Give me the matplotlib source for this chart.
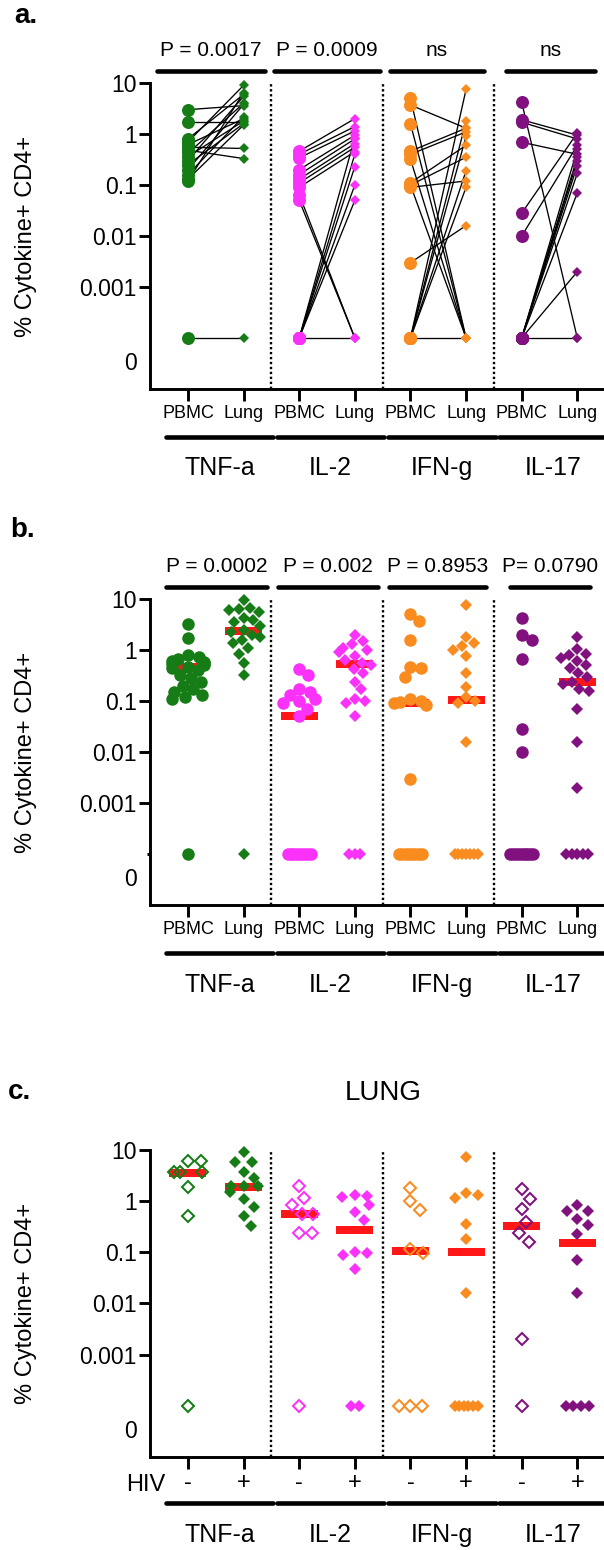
import numpy as np
import matplotlib
matplotlib.use("Agg")
import matplotlib.pyplot as plt
import matplotlib.transforms as mtransforms

plt.rcParams['font.family'] = ['Liberation Sans', 'DejaVu Sans']

# ---------------- data ----------------
cytokines = ['TNF-a', 'IL-2', 'IFN-g', 'IL-17']
colors = ['#167D16', '#F931F9', '#F98B1F', '#80117F']
tissue_labels = ['PBMC', 'Lung']
hiv_labels = ['-', '+']
ytick_values = [10, 1, 0.1, 0.01, 0.001]
ytick_labels = ['10', '1', '0.1', '0.01', '0.001']
ylabel_text = '% Cytokine+ CD4+'

# panel a: paired PBMC -> Lung values (0 = no response)
a_pvalues = ['P = 0.0017', 'P = 0.0009', 'ns', 'ns']
a_tnf_pbmc = [3.0, 1.7, 0.80, 0.70, 0.62, 0.55, 0.48, 0.42, 0.36, 0.30, 0.25, 0.20, 0.16, 0.13, 0.12, 0]
a_tnf_lung = [3.6, 1.7, 6.0, 9.0, 2.0, 0.52, 0.33, 4.0, 1.8, 5.5, 1.6, 3.8, 2.2, 1.5, 6.5, 0]
a_il2_pbmc = [0.46, 0.40, 0.34, 0.20, 0.16, 0.13, 0.11, 0.09, 0.065, 0.05, 0, 0, 0, 0, 0, 0]
a_il2_lung = [2.0, 1.4, 1.15, 0.95, 0.80, 0.65, 0.55, 0.45, 0, 0, 0.23, 0.10, 0.05, 0.40, 0.85, 0]
a_ifn_pbmc = [5.0, 3.7, 1.6, 0.46, 0.40, 0.32, 0.11, 0.10, 0.09, 0.10, 0.003, 0, 0, 0, 0, 0, 0]
a_ifn_lung = [0, 1.3, 0, 1.3, 1.1, 0, 0.6, 0.35, 0.12, 0, 0.016, 7.5, 1.8, 0.9, 0.19, 0.09, 0]
a_il17_pbmc = [4.2, 1.9, 1.7, 0.69, 0.028, 0.01, 0, 0, 0, 0, 0, 0, 0, 0]
a_il17_lung = [0, 0.95, 0.8, 0.4, 1.05, 0.6, 0.5, 0.3, 0.24, 0.17, 0.07, 0.002, 0.35, 0]

# panel b: all PBMC and Lung values with medians
b_pvalues = ['P = 0.0002', 'P = 0.002', 'P = 0.8953', 'P= 0.0790']
b_tnf_pbmc = [3.2, 1.7, 0.80, 0.72, 0.68, 0.62, 0.58, 0.55, 0.52, 0.50, 0.47, 0.44, 0.40,
              0.33, 0.28, 0.24, 0.20, 0.17, 0.15, 0.13, 0.12, 0.11, 0]
b_tnf_lung = [9.4, 6.6, 6.3, 6.0, 5.6, 4.2, 3.8, 3.5, 2.9, 2.5, 2.3, 2.0, 1.8, 1.6, 1.4,
              1.1, 0.85, 0.55, 0.33, 0]
b_il2_pbmc = [0.42, 0.32, 0.17, 0.15, 0.13, 0.11, 0.10, 0.09, 0.07, 0.05,
              0, 0, 0, 0, 0, 0, 0, 0, 0]
b_il2_lung = [2.0, 1.5, 1.3, 1.1, 1.0, 0.9, 0.75, 0.65, 0.55, 0.50, 0.42, 0.35, 0.24,
              0.17, 0.11, 0.10, 0.09, 0.05, 0, 0, 0]
b_ifn_pbmc = [5.0, 3.7, 1.6, 0.46, 0.45, 0.30, 0.11, 0.10, 0.095, 0.09, 0.085, 0.003,
              0, 0, 0, 0, 0, 0, 0, 0]
b_ifn_lung = [7.7, 1.8, 1.4, 1.2, 1.0, 0.75, 0.36, 0.19, 0.12, 0.10, 0.09, 0.016,
              0, 0, 0, 0, 0, 0, 0]
b_il17_pbmc = [4.2, 2.0, 1.6, 0.66, 0.028, 0.01, 0, 0, 0, 0, 0, 0, 0, 0, 0]
b_il17_lung = [1.8, 1.05, 0.85, 0.80, 0.70, 0.60, 0.50, 0.45, 0.35, 0.30, 0.24, 0.22,
               0.17, 0.16, 0.07, 0.016, 0.002, 0, 0, 0, 0, 0]
b_medians = [[0.47, 2.4], [0.051, 0.52], [0.09, 0.105], [0, 0.235]]

# panel c: lung values split by HIV status
c_title = 'LUNG'
c_tnf_neg = [6.1, 6.1, 3.8, 3.8, 3.8, 1.9, 0.52, 0]
c_tnf_pos = [9.0, 5.9, 5.9, 3.8, 2.8, 2.0, 2.0, 2.0, 1.5, 1.1, 0.78, 0.52, 0.33]
c_il2_neg = [2.0, 1.15, 0.85, 0.56, 0.56, 0.24, 0.24, 0]
c_il2_pos = [1.3, 1.25, 1.2, 0.85, 0.62, 0.42, 0.10, 0.095, 0.09, 0.048, 0, 0]
c_ifn_neg = [1.8, 1.0, 0.68, 0.115, 0.095, 0, 0, 0]
c_ifn_pos = [7.2, 1.45, 1.3, 1.15, 0.36, 0.18, 0.016, 0, 0, 0, 0, 0, 0]
c_il17_neg = [1.7, 1.1, 0.7, 0.4, 0.24, 0.16, 0.002, 0]
c_il17_pos = [0.85, 0.65, 0.63, 0.44, 0.34, 0.23, 0.07, 0.016, 0, 0, 0, 0]
c_medians = [[3.6, 1.9], [0.56, 0.27], [0.105, 0.10], [0.32, 0.15]]

a_pairs = [(a_tnf_pbmc, a_tnf_lung), (a_il2_pbmc, a_il2_lung),
           (a_ifn_pbmc, a_ifn_lung), (a_il17_pbmc, a_il17_lung)]
b_groups = [(b_tnf_pbmc, b_tnf_lung), (b_il2_pbmc, b_il2_lung),
            (b_ifn_pbmc, b_ifn_lung), (b_il17_pbmc, b_il17_lung)]
c_groups = [(c_tnf_neg, c_tnf_pos), (c_il2_neg, c_il2_pos),
            (c_ifn_neg, c_ifn_pos), (c_il17_neg, c_il17_pos)]

# ---------------- layout ----------------
W, H, DPI = 604, 1550, 100
PT = DPI / 72.0
AX_LEFT, AX_RIGHT = 150, 604
XMIN, XMAX = -0.683, 7.48
YMIN, YMAX = -5.0, 1.0
ZERO_POS = -4.0
ZERO_LABEL_POS = -4.5
PX_X = (AX_RIGHT - AX_LEFT) / (XMAX - XMIN)
PX_Y = 306 / (YMAX - YMIN)
SPINE_LW = 2.1
BAR_LW = 3.3
YTICK_SIZE = 16.5

a_statbars = [(-0.56, 1.38), (1.55, 3.45), (3.63, 5.32), (5.72, 7.32)]
b_statbars = [(-0.40, 1.42), (1.62, 3.42), (3.62, 5.36), (5.79, 7.23)]

fig = plt.figure(figsize=(W / DPI, H / DPI), dpi=DPI)
fig.patch.set_facecolor('white')


def fy(px):
    return 1 - px / H


def ycode(vals):
    v = np.asarray(vals, dtype=float)
    out = np.full(v.shape, ZERO_POS)
    pos = v > 0
    out[pos] = np.log10(v[pos])
    return out


def swarm(vals, d_coll, max_off, zero_step, zero_span=23.0):
    vals = np.asarray(vals, dtype=float)
    y = ycode(vals) * PX_Y
    n = len(vals)
    offs = np.zeros(n)
    order = [i for i in np.argsort(-vals, kind='stable') if vals[i] > 0]
    placed = []
    for i in order:
        yi = y[i]
        cands = [0.0]
        for xo, yo in placed:
            dy = abs(yi - yo)
            if dy < d_coll:
                dx = np.sqrt(d_coll ** 2 - dy ** 2)
                cands += [xo + dx, xo - dx]
        cands = sorted(cands, key=lambda c: (abs(c), -c))
        for c in cands:
            if all((c - xo) ** 2 + (yi - yo) ** 2 >= d_coll ** 2 - 1e-6 for xo, yo in placed):
                offs[i] = c
                break
        placed.append((offs[i], yi))
    offs = np.clip(offs, -max_off, max_off)
    zi = [i for i in range(n) if vals[i] <= 0]
    k = len(zi)
    if k > 1:
        step = min(zero_step, zero_span / (k - 1))
        for j, i in enumerate(zi):
            offs[i] = (j - (k - 1) / 2.0) * step
    return offs / PX_X


def make_axes(top_px, h_px, xlabels, xlabel_size, xpad, zero_tick):
    ax = fig.add_axes([AX_LEFT / W, 1 - (top_px + h_px) / H,
                       (AX_RIGHT - AX_LEFT) / W, h_px / H])
    ax.set_xlim(XMIN, XMAX)
    ax.set_ylim(YMIN, YMAX)
    ax.patch.set_visible(False)
    for s in ('top', 'right'):
        ax.spines[s].set_visible(False)
    for s in ('left', 'bottom'):
        ax.spines[s].set_linewidth(SPINE_LW)
        ax.spines[s].set_capstyle('projecting')
    ax.set_yticks(np.log10(ytick_values))
    ax.set_yticklabels(ytick_labels, fontsize=YTICK_SIZE)
    ax.tick_params(axis='y', length=7.9, width=SPINE_LW, pad=1.5)
    if zero_tick:
        ax.set_yticks([ZERO_POS], minor=True)
        ax.tick_params(axis='y', which='minor', length=2.5, width=SPINE_LW)
    tr = mtransforms.blended_transform_factory(ax.transAxes, ax.transData)
    ax.text(-13.0 / (AX_RIGHT - AX_LEFT), ZERO_LABEL_POS, '0', transform=tr,
            ha='right', va='center', fontsize=YTICK_SIZE)
    ax.set_xticks(np.arange(8))
    ax.set_xticklabels(xlabels, fontsize=xlabel_size)
    ax.tick_params(axis='x', length=8.6, width=SPINE_LW, pad=xpad)
    for xs in (1.5, 3.5, 5.5):
        ax.plot([xs, xs], [YMIN, YMAX], color='black', lw=1.7,
                ls=(0, (1, 1.1)), zorder=1, clip_on=False)
    return ax


def hbar(ax, x0, x1, ypx, lw=BAR_LW):
    tr = mtransforms.blended_transform_factory(ax.transData, fig.transFigure)
    ax.plot([x0, x1], [fy(ypx), fy(ypx)], color='black', lw=lw, transform=tr,
            clip_on=False, solid_capstyle='round')


def htext(ax, x, ypx, s, size):
    tr = mtransforms.blended_transform_factory(ax.transData, fig.transFigure)
    ax.text(x, fy(ypx), s, transform=tr, ha='center', va='center', fontsize=size)


def group_labels(ax, bar_y, label_y):
    for k, name in enumerate(cytokines):
        x0, x1 = 2 * k - 0.40, 2 * k + 1.53
        hbar(ax, x0, x1, bar_y)
        htext(ax, (x0 + x1) / 2, label_y, name, 18)


def median_bar(ax, x, val):
    if val <= 0:
        return
    y = ycode([val])[0]
    hw = 18.5 / PX_X
    ax.plot([x - hw, x + hw], [y, y], color='#FF1616', lw=8 / PT,
            solid_capstyle='butt', zorder=2, clip_on=False)


# ---------------- panel a ----------------
axA = make_axes(83, 306, tissue_labels * 4, 13, 3, False)
for k, (pb, lu) in enumerate(a_pairs):
    col = colors[k]
    x0, x1 = 2 * k, 2 * k + 1
    yp, yl = ycode(pb), ycode(lu)
    for p, l in zip(yp, yl):
        axA.plot([x0, x1], [p, l], color='black', lw=0.95, zorder=2)
    axA.plot(np.full(len(yp), x0), yp, ls='none', marker='o', ms=13 / PT,
             color=col, mew=0, zorder=4, clip_on=False)
    axA.plot(np.full(len(yl), x1), yl, ls='none', marker='D', ms=7.6 / PT,
             color=col, mew=0, zorder=4, clip_on=False)
for k, (x0, x1) in enumerate(a_statbars):
    hbar(axA, x0, x1, 71)
    htext(axA, (x0 + x1) / 2, 50, a_pvalues[k], 15)
group_labels(axA, 437, 468)

# ---------------- panel b ----------------
axB = make_axes(599, 306, tissue_labels * 4, 13, 3, True)
for k, (pb, lu) in enumerate(b_groups):
    col = colors[k]
    x0, x1 = 2 * k, 2 * k + 1
    op = swarm(pb, 11.0, 16.0, 5.5)
    ol = swarm(lu, 10.0, 16.0, 5.5)
    median_bar(axB, x0, b_medians[k][0])
    median_bar(axB, x1, b_medians[k][1])
    axB.plot(x0 + op, ycode(pb), ls='none', marker='o', ms=12.5 / PT,
             color=col, mew=0, zorder=4, clip_on=False)
    axB.plot(x1 + ol, ycode(lu), ls='none', marker='D', ms=8.1 / PT,
             color=col, mew=0, zorder=4, clip_on=False)
for k, (x0, x1) in enumerate(b_statbars):
    hbar(axB, x0, x1, 587)
    htext(axB, (x0 + x1) / 2, 567, b_pvalues[k], 15)
group_labels(axB, 953, 985)

# ---------------- panel c ----------------
axC = make_axes(1150, 307, hiv_labels * 4, 17, 2, False)
for k, (neg, pos) in enumerate(c_groups):
    col = colors[k]
    x0, x1 = 2 * k, 2 * k + 1
    on = swarm(neg, 13.0, 14.0, 12.0)
    opos = swarm(pos, 12.5, 14.0, 8.0)
    median_bar(axC, x0, c_medians[k][0])
    median_bar(axC, x1, c_medians[k][1])
    axC.plot(x0 + on, ycode(neg), ls='none', marker='D', ms=8.2 / PT,
             mfc='none', mec=col, mew=2.0 / PT, zorder=4, clip_on=False)
    axC.plot(x1 + opos, ycode(pos), ls='none', marker='D', ms=8.8 / PT,
             color=col, mew=0, zorder=4, clip_on=False)
group_labels(axC, 1503, 1535)
fig.text(165 / W, fy(1485), 'HIV', ha='right', va='center', fontsize=17)
fig.text(383 / W, fy(1093), c_title, ha='center', va='center', fontsize=20)

# ---------------- y labels and panel letters ----------------
for cy in (236, 752, 1303):
    fig.text(26 / W, fy(cy), ylabel_text, rotation=90, ha='center', va='center', fontsize=17)
for lx, ly, s in ((14, 16, 'a.'), (10, 530, 'b.'), (8, 1092, 'c.')):
    fig.text(lx / W, fy(ly), s, ha='left', va='center', fontsize=20, fontweight='bold')

fig.savefig('out.png', dpi=DPI, facecolor='white')
